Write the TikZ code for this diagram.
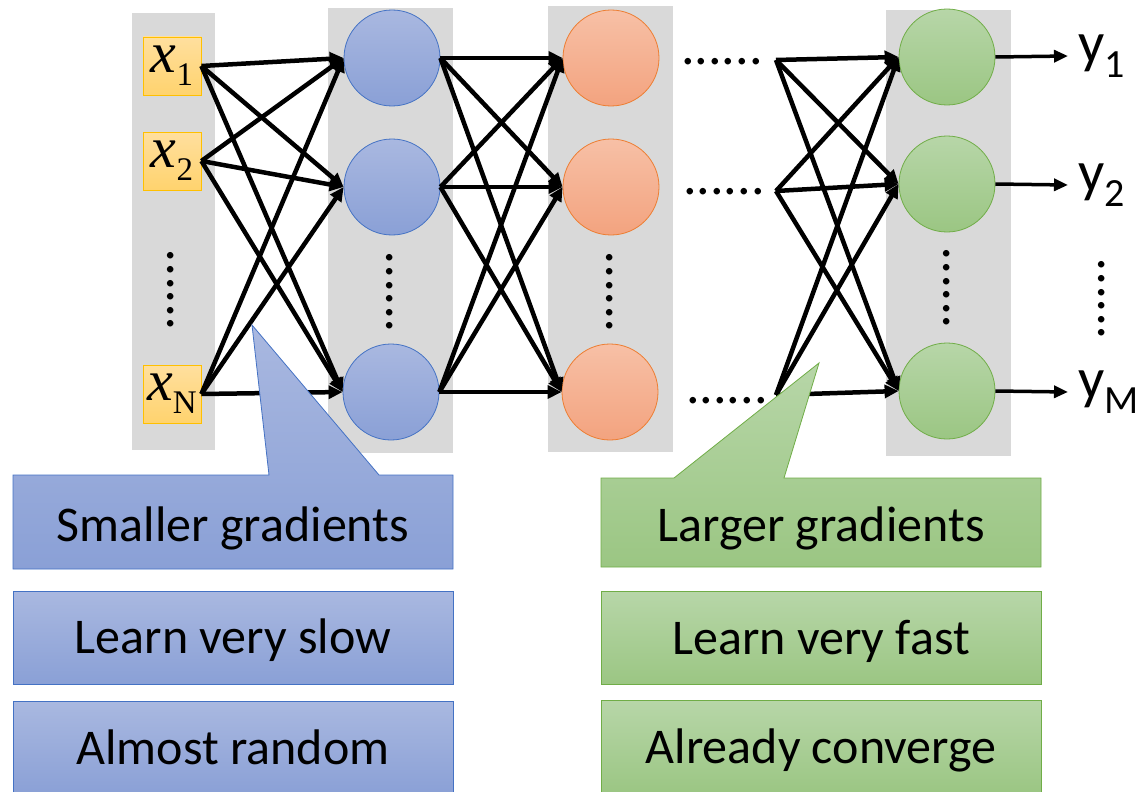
\documentclass[tikz,border=0pt]{standalone}
\usepackage{fontspec}
\setmainfont{Carlito}
\newfontfamily\timesfont{Liberation Serif}
\newfontfamily\timesitalic{Liberation Serif Italic}
\usepackage{xcolor}
\usetikzlibrary{arrows.meta,positioning}

\definecolor{colbg}{HTML}{D9D9D9}
\definecolor{blueline}{HTML}{4472C4}
\definecolor{bluetop}{HTML}{A9B8E0}
\definecolor{bluebot}{HTML}{8AA0D6}
\definecolor{greenline}{HTML}{70AD47}
\definecolor{greentop}{HTML}{B7D6A8}
\definecolor{greenbot}{HTML}{9BC683}
\definecolor{orangeline}{HTML}{ED7D31}
\definecolor{orangetop}{HTML}{F7C0A6}
\definecolor{orangebot}{HTML}{F3A37F}
\definecolor{yellowline}{HTML}{FFC000}
\definecolor{yellowtop}{HTML}{FFDF9E}
\definecolor{yellowbot}{HTML}{FFD36E}

\newcommand\inlabel[1]{{\timesitalic\fontsize{58}{58}\selectfont x}\raisebox{-13pt}{\timesfont\fontsize{33}{33}\selectfont #1}}
\newcommand\outlabel[1]{y\raisebox{-15pt}{\fontsize{40}{40}\selectfont #1}}

\begin{document}
\begin{tikzpicture}[x=1pt,y=-1pt,
    layer/.style={fill=colbg},
    inbox/.style={draw=yellowline, top color=yellowtop, bottom color=yellowbot, line width=0.8pt, minimum size=58pt, inner sep=0pt},
    unit/.style={circle, minimum size=96pt, inner sep=0pt, line width=0.8pt},
    blueunit/.style={unit, draw=blueline, top color=bluetop, bottom color=bluebot},
    orangeunit/.style={unit, draw=orangeline, top color=orangetop, bottom color=orangebot},
    greenunit/.style={unit, draw=greenline, top color=greentop, bottom color=greenbot},
    wire/.style={line width=4.5pt, -{Triangle[length=14pt,width=13pt]}},
    outwire/.style={line width=3.5pt, -{Triangle[length=14pt,width=12pt]}},
    dotsh/.style={font=\fontsize{54}{54}\selectfont, inner sep=0pt},
    dotsv/.style={dotsh, rotate=90},
    ylabel/.style={font=\fontsize{58}{58}\selectfont, inner sep=0pt, anchor=west},
    bluenote/.style={draw=blueline, top color=bluetop, bottom color=bluebot, line width=0.8pt},
    greennote/.style={draw=greenline, top color=greentop, bottom color=greenbot, line width=0.8pt},
    notetext/.style={font=\fontsize{50}{50}\selectfont, inner sep=0pt, text height=32pt, text depth=0pt},
    notebox/.style={notetext, minimum width=440pt, minimum height=93pt}]
    \useasboundingbox (0,0) rectangle (1144,792);

    % gray layer columns
    \fill[layer] (132,13) rectangle (215,450);
    \fill[layer] (328,8) rectangle (453,453);
    \fill[layer] (548,6) rectangle (673,452);
    \fill[layer] (886,10) rectangle (1011,456);

    % inputs
    \node[inbox] (x1) at (172,66) {\inlabel{1}};
    \node[inbox] (x2) at (172,161) {\inlabel{2}};
    \node[inbox] (xN) at (172,394) {\inlabel{N}};
    \node[dotsv] (xdots) at (171,290) {......};

    % first hidden layer
    \node[blueunit] (b1) at (392,58) {};
    \node[blueunit] (b2) at (392,187) {};
    \node[blueunit] (b3) at (391,392) {};
    \node[dotsv] (bdots) at (390,292) {......};

    % second hidden layer
    \node[orangeunit] (r1) at (611,58) {};
    \node[orangeunit] (r2) at (611,187) {};
    \node[orangeunit] (r3) at (610,392) {};
    \node[dotsv] (rdots) at (610,292) {......};

    % skipped layers
    \node[dotsh] (skip1) at (722,62) {......};
    \node[dotsh] (skip2) at (724,192) {......};
    \node[dotsh] (skip3) at (727,401) {......};
    \coordinate (f1) at (776,60);
    \coordinate (f2) at (776,191);
    \coordinate (f3) at (776,395);

    % output layer
    \node[greenunit] (g1) at (947,57) {};
    \node[greenunit] (g2) at (947,184) {};
    \node[greenunit] (g3) at (947,391) {};
    \node[dotsv] (gdots) at (947,288) {......};

    % connections
    \foreach \s in {x1,x2,xN}
        \foreach \t in {b1,b2,b3}
            \draw[wire] (\s.east) -- (\t.west);
    \foreach \s in {b1,b2,b3}
        \foreach \t in {r1,r2,r3}
            \draw[wire] (\s.east) -- (\t.west);
    \foreach \s in {f1,f2,f3}
        \foreach \t in {g1,g2,g3}
            \draw[wire] (\s) -- (\t.west);

    % outputs
    \coordinate (e1) at (1068,56);
    \coordinate (e2) at (1068,185);
    \coordinate (e3) at (1068,392);
    \draw[outwire] (g1.east) -- (e1);
    \draw[outwire] (g2.east) -- (e2);
    \draw[outwire] (g3.east) -- (e3);
    \node[ylabel, right=10pt of e1] (y1) {\outlabel{1}};
    \node[ylabel, right=10pt of e2] (y2) {\outlabel{2}};
    \node[ylabel, right=10pt of e3] (yM) {\outlabel{M}};
    \node[dotsv] (ydots) at (1102,299) {......};

    % notes under the network
    \path[bluenote] (13,475) -- (269,475) -- (252,325) -- (379,475) -- (453,475)
        -- (453,569) -- (13,569) -- cycle;
    \node[notetext] (small) at (233,525) {Smaller gradients};
    \node[bluenote, notebox] (slow) at (233,637.5) {Learn very slow};
    \node[bluenote, notebox] (random) at (233,748) {Almost random};

    \path[greennote] (601,478) -- (674,478) -- (819,363) -- (784,478) -- (1041,478)
        -- (1041,567) -- (601,567) -- cycle;
    \node[notetext] (large) at (821,525) {Larger gradients};
    \node[greennote, notebox] (fast) at (821,638) {Learn very fast};
    \node[greennote, notebox] (conv) at (821,747) {Already converge};
\end{tikzpicture}
\end{document}
